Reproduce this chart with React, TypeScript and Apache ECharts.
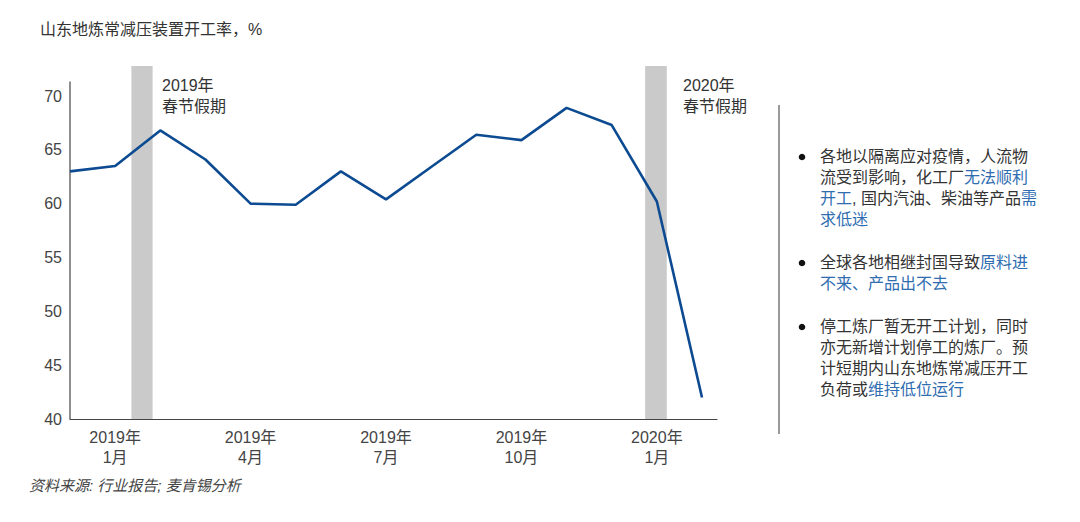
import React, { useEffect, useRef } from "react";
import * as echarts from "echarts";

const FONT = '"Liberation Sans", "Noto Sans CJK SC", sans-serif';

// Months from Dec 2018 to Feb 2020 (index 0..14)
const months = [
  "2018-12", "2019-01", "2019-02", "2019-03", "2019-04", "2019-05", "2019-06",
  "2019-07", "2019-08", "2019-09", "2019-10", "2019-11", "2019-12", "2020-01", "2020-02",
];
const rates = [63.0, 63.5, 66.8, 64.1, 60.0, 59.9, 63.0, 60.4, 63.4, 66.4, 65.9, 68.9, 67.3, 60.2, 42.0];

// x tick labels keyed by month index
const tickIndex = [1, 4, 7, 10, 13];
const tickLabels = ["2019年\n1月", "2019年\n4月", "2019年\n7月", "2019年\n10月", "2020年\n1月"];

// Spring Festival holiday bands, in month-index units
const holidayStart = [1.36, 12.74];
const holidayEnd = [1.83, 13.22];
const holidayLabels = ["2019年\n春节假期", "2020年\n春节假期"];

const yTicks = [40, 45, 50, 55, 60, 65, 70];

export default function App() {
  const ref = useRef<HTMLDivElement>(null);

  useEffect(() => {
    document.body.style.margin = "0";
    if (!ref.current) return;
    const chart = echarts.init(ref.current, null, { renderer: "svg" });

    const gridLeft = 70;
    const gridRight = 363;
    const gridTop = 66;
    const gridBottom = 103;

    const dark = "#333333";
    const blue = "#2f6db0";
    const LH = 20.8;

    const rich = {
      n: { fill: dark, fontSize: 16, fontFamily: FONT, lineHeight: LH },
      b: { fill: blue, fontSize: 16, fontFamily: FONT, lineHeight: LH },
    };

    const bullets = [
      {
        top: 146.6,
        text:
          "{n|各地以隔离应对疫情，人流物}\n{n|流受到影响，化工厂}{b|无法顺利}\n{b|开工}{n|, 国内汽油、柴油等产品}{b|需}\n{b|求低迷}",
      },
      {
        top: 252.6,
        text: "{n|全球各地相继封国导致}{b|原料进}\n{b|不来、产品出不去}",
      },
      {
        top: 316.6,
        text:
          "{n|停工炼厂暂无开工计划，同时}\n{n|亦无新增计划停工的炼厂。预}\n{n|计短期内山东地炼常减压开工}\n{n|负荷或}{b|维持低位运行}",
      },
    ];

    const graphics: any[] = [
      {
        type: "text",
        left: 40,
        top: 21,
        style: { text: "山东地炼常减压装置开工率，%", fontSize: 16, fontFamily: FONT, fill: dark },
      },
      {
        type: "text",
        left: 29,
        top: 478,
        style: {
          text: "资料来源: 行业报告; 麦肯锡分析",
          fontSize: 15,
          fontStyle: "italic",
          fontFamily: FONT,
          fill: "#444444",
        },
      },
      {
        type: "line",
        shape: { x1: 70, y1: 81.5, x2: 70, y2: 419 },
        style: { stroke: "#444444", lineWidth: 1.2 },
      },
      {
        type: "line",
        shape: { x1: 779, y1: 105, x2: 779, y2: 434 },
        style: { stroke: "#9a9a9a", lineWidth: 2 },
      },
      {
        type: "text",
        left: 162,
        top: 74.5,
        style: { text: holidayLabels[0], fontSize: 16, fontFamily: FONT, fill: dark, lineHeight: 21 },
      },
      {
        type: "text",
        left: 683,
        top: 74.5,
        style: { text: holidayLabels[1], fontSize: 16, fontFamily: FONT, fill: dark, lineHeight: 21 },
      },
    ];

    bullets.forEach((b) => {
      graphics.push({
        type: "circle",
        shape: { cx: 802, cy: b.top + LH / 2, r: 3.3 },
        style: { fill: "#111111" },
      });
      graphics.push({
        type: "text",
        left: 820,
        top: b.top,
        style: { text: b.text, rich, fontSize: 16, fontFamily: FONT, fill: dark, lineHeight: LH },
      });
    });

    const pxPerUnit = (419 - 96) / 30;
    const yMax = 40 + (419 - gridTop) / pxPerUnit;
    const xMax = (717 - gridLeft) / ((702 - 70) / 14);

    chart.setOption({
      animation: false,
      grid: { left: gridLeft, right: gridRight, top: gridTop, bottom: gridBottom, containLabel: false },
      xAxis: {
        type: "value",
        min: 0,
        max: xMax,
        interval: 1,
        splitLine: { show: false },
        axisTick: { show: false },
        axisLine: { show: true, lineStyle: { color: "#444444", width: 1.2 } },
        axisLabel: {
          show: true,
          margin: 8,
          showMinLabel: true,
          showMaxLabel: true,
          color: "#444444",
          fontSize: 16,
          fontFamily: FONT,
          lineHeight: 20,
          formatter: (v: number) => {
            const k = tickIndex.indexOf(Math.round(v));
            if (k < 0 || Math.abs(v - Math.round(v)) > 1e-6) return "";
            return tickLabels[k];
          },
        },
      },
      yAxis: {
        type: "value",
        min: 40,
        max: yMax,
        interval: 5,
        splitLine: { show: false },
        axisTick: { show: false },
        axisLine: { show: false },
        axisLabel: {
          margin: 8,
          color: "#444444",
          fontSize: 16,
          fontFamily: FONT,
          formatter: (v: number) => (yTicks.indexOf(v) >= 0 ? String(v) : ""),
        },
      },
      series: [
        {
          type: "line",
          data: rates.map((r, i) => [i, r]),
          name: "开工率",
          symbol: "none",
          lineStyle: { color: "#0c4a91", width: 2.6 },
          z: 5,
          markArea: {
            silent: true,
            itemStyle: { color: "#c9cac9" },
            label: { show: false },
            data: holidayStart.map((s, i) => [{ xAxis: s }, { xAxis: holidayEnd[i] }]),
          },
        },
      ],
      graphic: graphics,
    });

    return () => chart.dispose();
  }, []);

  return (
    <div
      ref={ref}
      style={{ width: 1080, height: 522, position: "absolute", left: 0, top: 0, background: "#ffffff" }}
    />
  );
}
